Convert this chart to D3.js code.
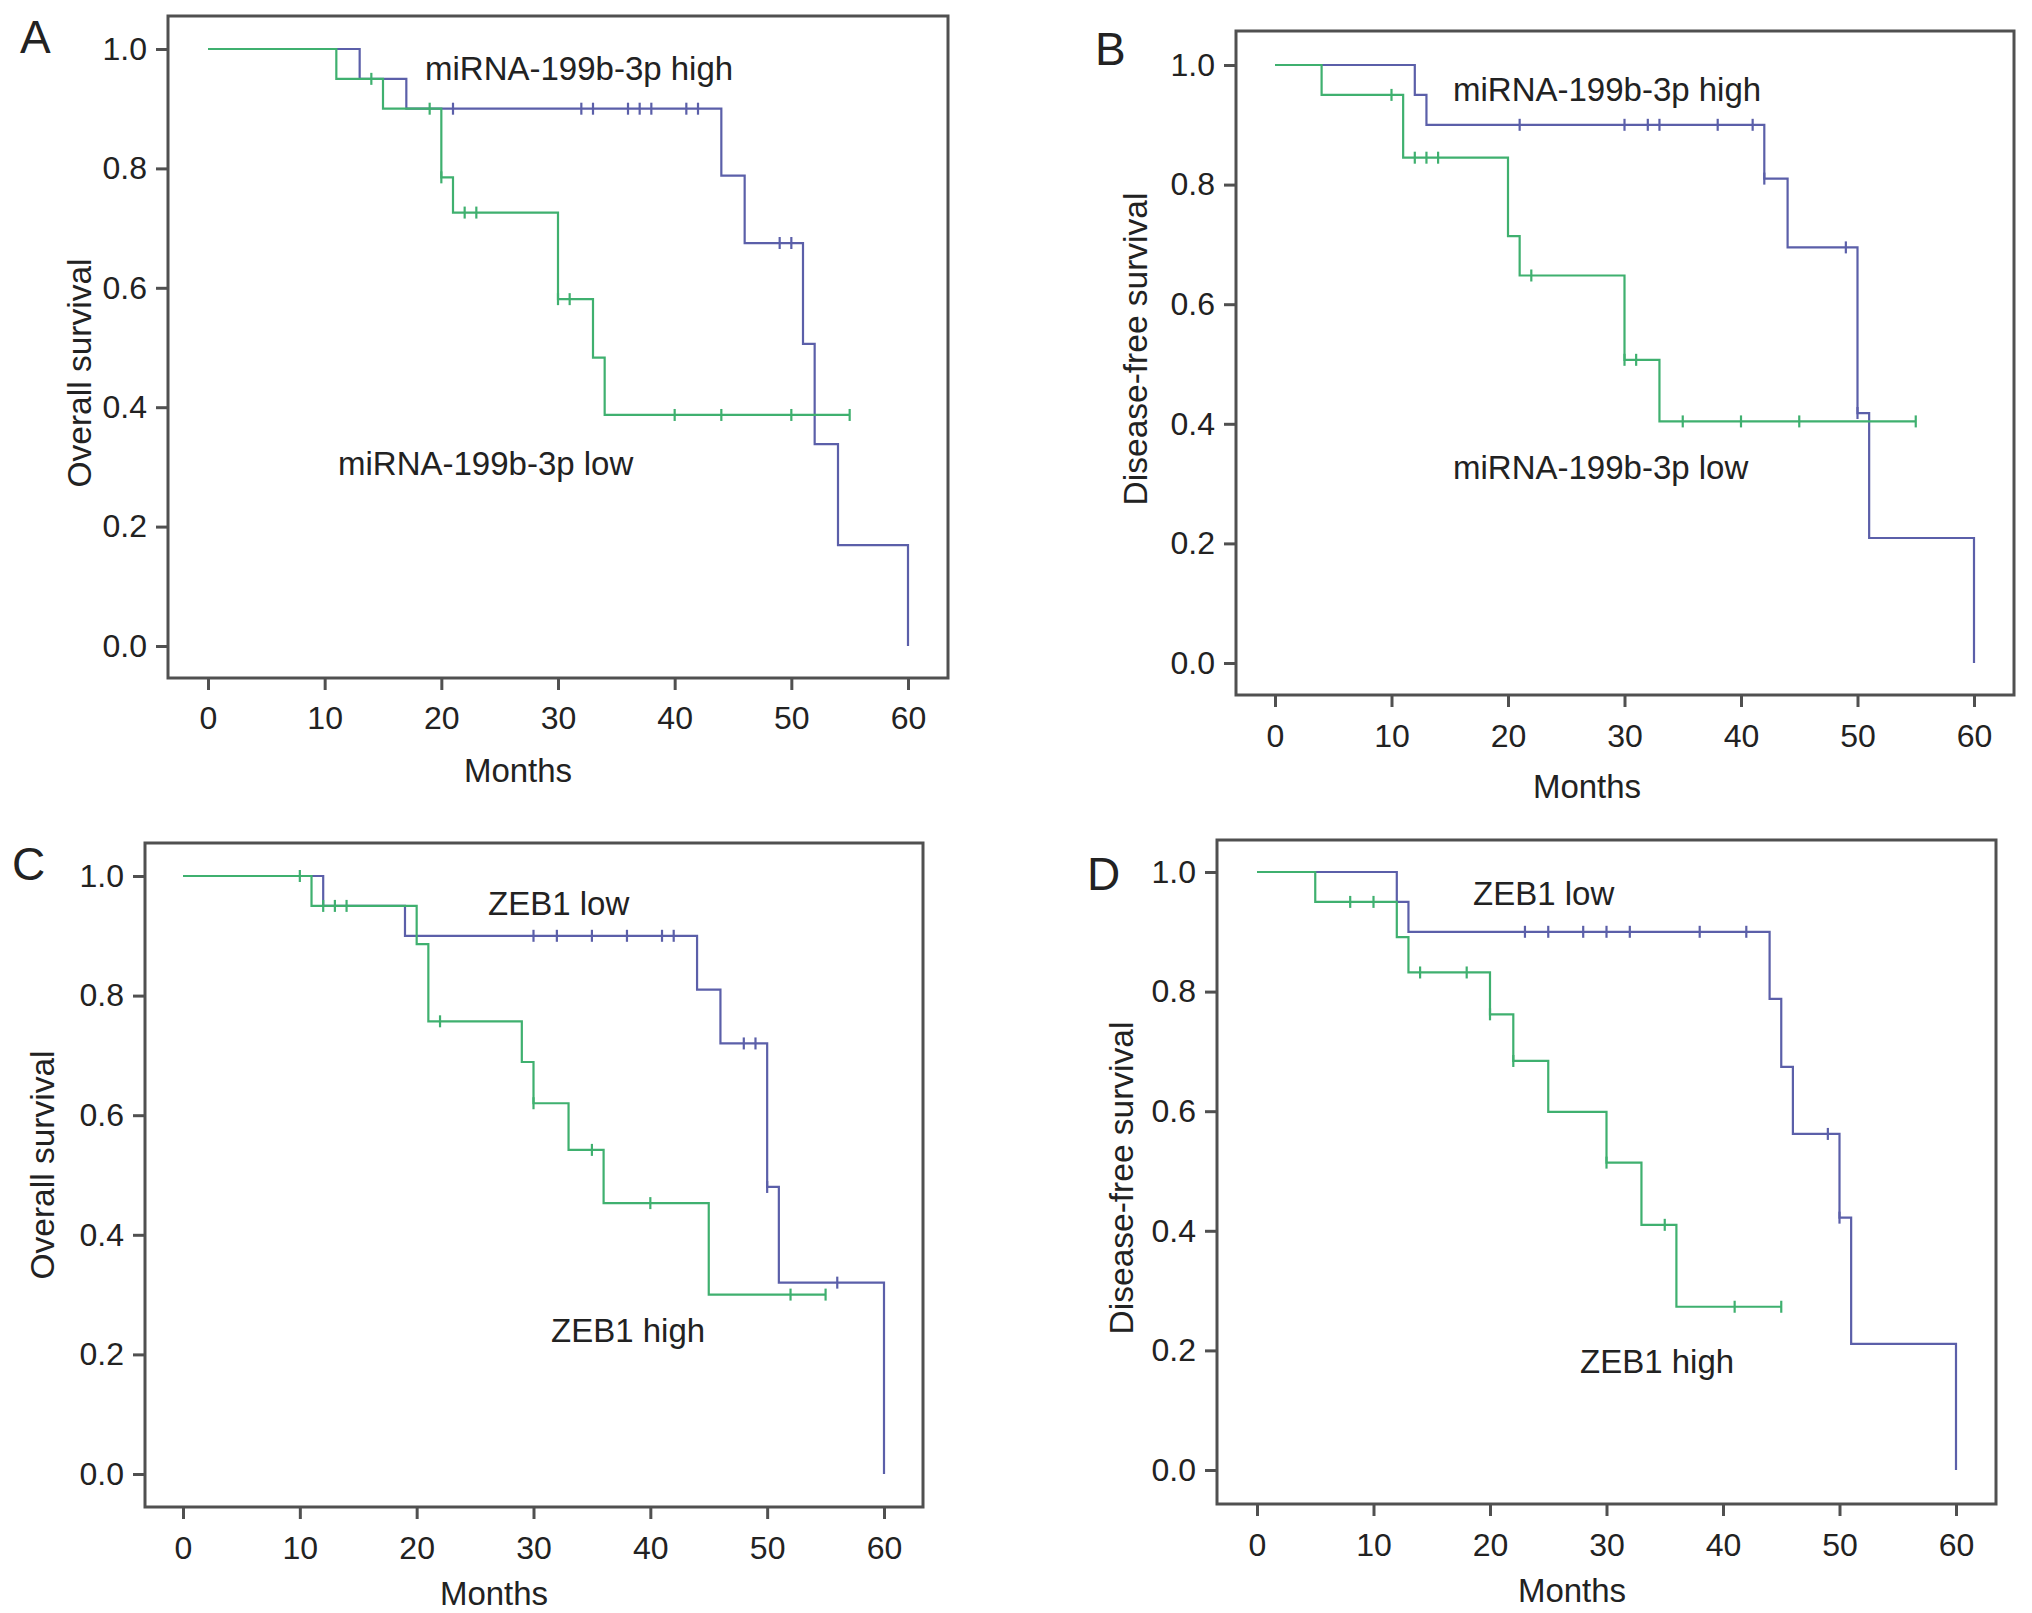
<!DOCTYPE html>
<html><head><meta charset="utf-8">
<script src="https://cdn.jsdelivr.net/npm/d3@7"></script>
<style>
html,body{margin:0;padding:0;background:#fff;}
svg{display:block;}
text{font-family:"Liberation Sans",Arial,Helvetica,sans-serif;fill:#222;}
</style></head>
<body>
<svg id="chart" width="2032" height="1613"></svg>
<script>
// ---------- DATA ----------
const xTicks = [0, 10, 20, 30, 40, 50, 60];
const yTicks = [0.0, 0.2, 0.4, 0.6, 0.8, 1.0];
const panelLetters = ["A", "B", "C", "D"];
const yTitles = ["Overall survival", "Disease-free survival", "Overall survival", "Disease-free survival"];
const xTitle = "Months";
const blueLabels = ["miRNA-199b-3p high", "miRNA-199b-3p high", "ZEB1 low", "ZEB1 low"];
const greenLabels = ["miRNA-199b-3p low", "miRNA-199b-3p low", "ZEB1 high", "ZEB1 high"];

// Panel A
const A_blueTimes = [13, 17, 44, 46, 51, 52, 54, 60];
const A_blueSurv  = [0.95, 0.90, 0.788, 0.675, 0.506, 0.338, 0.169, 0.0];
const A_blueCens  = [21, 32, 33, 36, 37, 38, 41, 42, 49, 50];
const A_blueEnd   = 60;
const A_greenTimes = [11, 15, 20, 21, 30, 33, 34];
const A_greenSurv  = [0.95, 0.90, 0.785, 0.726, 0.581, 0.483, 0.387];
const A_greenCens  = [14, 19, 20, 22, 23, 30, 31, 40, 44, 50, 55];
const A_greenEnd   = 55;
// Panel B
const B_blueTimes = [12, 13, 42, 44, 50, 51, 60];
const B_blueSurv  = [0.95, 0.90, 0.81, 0.695, 0.418, 0.209, 0.0];
const B_blueCens  = [21, 30, 32, 33, 38, 41, 42, 49, 50];
const B_blueEnd   = 60;
const B_greenTimes = [4, 11, 20, 21, 30, 33];
const B_greenSurv  = [0.95, 0.845, 0.714, 0.648, 0.507, 0.404];
const B_greenCens  = [10, 12, 13, 14, 22, 30, 31, 35, 40, 45, 55];
const B_greenEnd   = 55;
// Panel C
const C_blueTimes = [12, 19, 44, 46, 50, 51, 60];
const C_blueSurv  = [0.95, 0.90, 0.81, 0.72, 0.48, 0.32, 0.0];
const C_blueCens  = [30, 32, 35, 38, 41, 42, 48, 49, 50, 56];
const C_blueEnd   = 60;
const C_greenTimes = [11, 20, 21, 29, 30, 33, 36, 45];
const C_greenSurv  = [0.95, 0.886, 0.757, 0.689, 0.62, 0.542, 0.453, 0.30];
const C_greenCens  = [10, 12, 13, 14, 22, 30, 35, 40, 52, 55];
const C_greenEnd   = 55;
// Panel D
const D_blueTimes = [12, 13, 44, 45, 46, 50, 51, 60];
const D_blueSurv  = [0.95, 0.90, 0.788, 0.674, 0.562, 0.422, 0.211, 0.0];
const D_blueCens  = [23, 25, 28, 30, 32, 38, 42, 49, 50];
const D_blueEnd   = 60;
const D_greenTimes = [5, 12, 13, 20, 22, 25, 30, 33, 36];
const D_greenSurv  = [0.95, 0.891, 0.832, 0.762, 0.684, 0.599, 0.514, 0.41, 0.273];
const D_greenCens  = [8, 10, 14, 18, 20, 22, 30, 35, 41, 45];
const D_greenEnd   = 45;

// ---------- LAYOUT (positions only) ----------
const layout = [
  {fx0:168, fy0:16, fx1:948, fy1:678, x0:208, x1:908, y1:49, y0:646, tickBase:729, mx:518, my:782, ytx:91, yty:373, lx:20, ly:53,
   blueLab:[425,80], greenLab:[338,475]},
  {fx0:1236, fy0:31, fx1:2014, fy1:695, x0:1275, x1:1974, y1:65, y0:663, tickBase:747, mx:1587, my:798, ytx:1147, yty:349, lx:1095, ly:65,
   blueLab:[1453,101], greenLab:[1453,479]},
  {fx0:145, fy0:843, fx1:923, fy1:1507, x0:183, x1:884, y1:876, y0:1474, tickBase:1559, mx:494, my:1605, ytx:54, yty:1165, lx:12, ly:880,
   blueLab:[488,915], greenLab:[551,1342]},
  {fx0:1217, fy0:840, fx1:1996, fy1:1504, x0:1257, x1:1956, y1:872, y0:1470, tickBase:1556, mx:1572, my:1602, ytx:1133, yty:1178, lx:1087, ly:890,
   blueLab:[1473,905], greenLab:[1580,1373]}
];

const series = [
  {bt:A_blueTimes, bs:A_blueSurv, bc:A_blueCens, be:A_blueEnd, gt:A_greenTimes, gs:A_greenSurv, gc:A_greenCens, ge:A_greenEnd},
  {bt:B_blueTimes, bs:B_blueSurv, bc:B_blueCens, be:B_blueEnd, gt:B_greenTimes, gs:B_greenSurv, gc:B_greenCens, ge:B_greenEnd},
  {bt:C_blueTimes, bs:C_blueSurv, bc:C_blueCens, be:C_blueEnd, gt:C_greenTimes, gs:C_greenSurv, gc:C_greenCens, ge:C_greenEnd},
  {bt:D_blueTimes, bs:D_blueSurv, bc:D_blueCens, be:D_blueEnd, gt:D_greenTimes, gs:D_greenSurv, gc:D_greenCens, ge:D_greenEnd}
];

const BLUE = "#5b5fa9";
const GREEN = "#3fb06f";
const FRAME = "#505050";

const svg = d3.select("#chart");

function stepPoints(times, surv, end) {
  const pts = [[0, 1]];
  times.forEach((t, i) => pts.push([t, surv[i]]));
  const last = pts[pts.length - 1];
  if (end > last[0]) pts.push([end, last[1]]);
  return pts;
}
function survAt(times, surv, t) {
  let s = 1;
  times.forEach((tt, i) => { if (tt <= t) s = surv[i]; });
  return s;
}

layout.forEach((L, pi) => {
  const S = series[pi];
  const g = svg.append("g");
  const x = d3.scaleLinear().domain([0, 60]).range([L.x0, L.x1]);
  const y = d3.scaleLinear().domain([0, 1]).range([L.y0, L.y1]);

  // frame
  g.append("rect").attr("x", L.fx0).attr("y", L.fy0)
    .attr("width", L.fx1 - L.fx0).attr("height", L.fy1 - L.fy0)
    .attr("fill", "none").attr("stroke", FRAME).attr("stroke-width", 3);

  // axes
  const xAxis = d3.axisBottom(x).tickValues(xTicks).tickFormat(d3.format("d")).tickSize(12).tickPadding(14);
  const gx = g.append("g").attr("transform", `translate(0,${L.fy1})`).call(xAxis);
  gx.select(".domain").remove();
  gx.selectAll(".tick line").attr("stroke", FRAME).attr("stroke-width", 3);
  gx.selectAll(".tick text").attr("font-size", 32).attr("fill", "#222")
    .attr("dy", null).attr("y", L.tickBase - L.fy1);

  const yAxis = d3.axisLeft(y).tickValues(yTicks).tickFormat(d3.format(".1f")).tickSize(12).tickPadding(9);
  const gy = g.append("g").attr("transform", `translate(${L.fx0},0)`).call(yAxis);
  gy.select(".domain").remove();
  gy.selectAll(".tick line").attr("stroke", FRAME).attr("stroke-width", 3);
  gy.selectAll(".tick text").attr("font-size", 32).attr("fill", "#222");

  // titles
  g.append("text").attr("x", L.mx).attr("y", L.my).attr("text-anchor", "middle")
    .attr("font-size", 33).text(xTitle);
  g.append("text").attr("transform", `translate(${L.ytx},${L.yty}) rotate(-90)`)
    .attr("text-anchor", "middle").attr("font-size", 33.5).text(yTitles[pi]);
  g.append("text").attr("x", L.lx).attr("y", L.ly).attr("font-size", 46).text(panelLetters[pi]);

  // curves
  const line = d3.line().x(d => x(d[0])).y(d => y(d[1])).curve(d3.curveStepAfter);
  const groups = [
    {t:S.bt, s:S.bs, c:S.bc, e:S.be, col:BLUE},
    {t:S.gt, s:S.gs, c:S.gc, e:S.ge, col:GREEN}
  ];
  groups.forEach(G => {
    g.append("path").attr("d", line(stepPoints(G.t, G.s, G.e)))
      .attr("fill", "none").attr("stroke", G.col).attr("stroke-width", 2.2);
    g.selectAll(null).data(G.c).enter().append("line")
      .attr("x1", d => x(d)).attr("x2", d => x(d))
      .attr("y1", d => y(survAt(G.t, G.s, d)) - 6)
      .attr("y2", d => y(survAt(G.t, G.s, d)) + 6)
      .attr("stroke", G.col).attr("stroke-width", 2.2);
  });

  // curve labels
  g.append("text").attr("x", L.blueLab[0]).attr("y", L.blueLab[1]).attr("font-size", 33).text(blueLabels[pi]);
  g.append("text").attr("x", L.greenLab[0]).attr("y", L.greenLab[1]).attr("font-size", 33).text(greenLabels[pi]);
});
</script>
</body></html>
